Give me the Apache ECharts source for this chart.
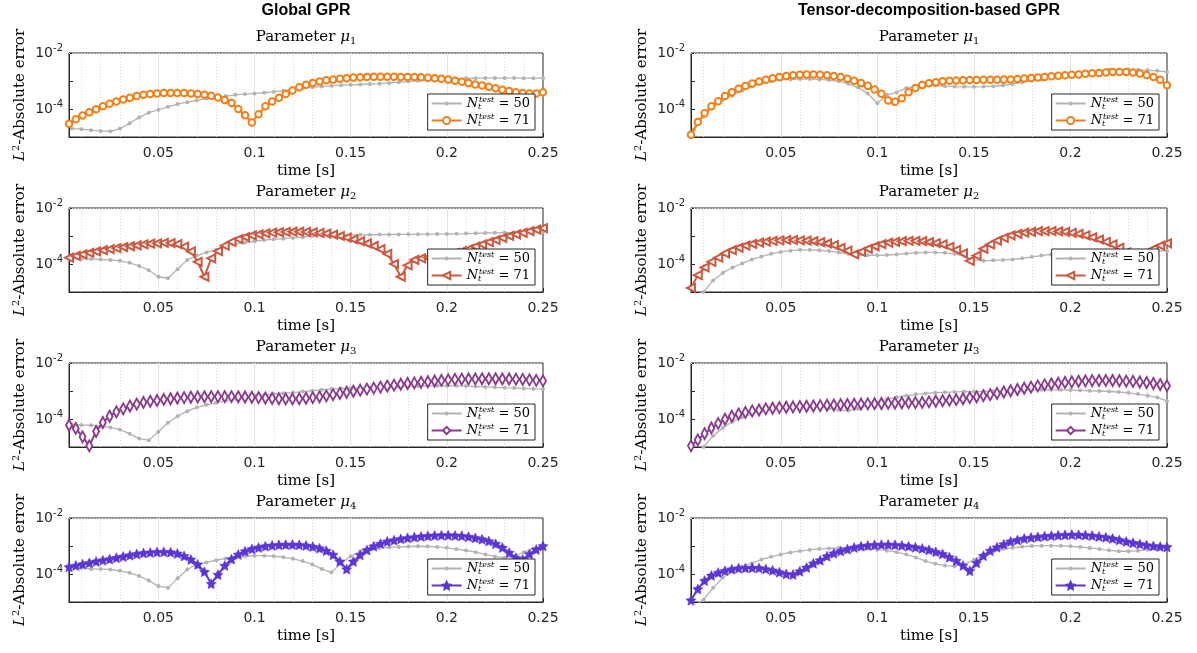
<!DOCTYPE html>
<html>
<head>
<meta charset="utf-8">
<script src="https://cdn.jsdelivr.net/npm/echarts@6.0.0/dist/echarts.min.js"></script>
<style>
  html, body { margin: 0; padding: 0; background: #fff; }
  #chart { width: 1197px; height: 653px; }
</style>
</head>
<body>
<div id="chart"></div>
<script>
// time grids of the two test sets
const dt50 = 0.005;
const dt71 = 0.25 / 71;
const time50 = Array.from({ length: 50 }, (_, i) => dt50 * (i + 1));
const time71 = Array.from({ length: 71 }, (_, i) => dt71 * (i + 1));
const xTicks = [0.05, 0.1, 0.15, 0.2, 0.25];
const yLabelExps = [-2, -4];

// ---- Global GPR ----
const glob_mu1_50 = [2.0e-5,1.9e-5,1.75e-5,1.65e-5,1.6e-5,2.0e-5,3.1e-5,5.0e-5,7.4e-5,9.4e-5,
  1.2e-4,1.5e-4,1.75e-4,2.05e-4,2.35e-4,2.65e-4,2.9e-4,3.2e-4,3.4e-4,3.6e-4,
  3.8e-4,4.1e-4,4.5e-4,5.0e-4,5.5e-4,6.0e-4,6.3e-4,6.7e-4,7.1e-4,7.3e-4,
  7.5e-4,7.8e-4,8.0e-4,8.5e-4,9.0e-4,9.7e-4,1.02e-3,1.08e-3,1.12e-3,1.18e-3,
  1.22e-3,1.25e-3,1.26e-3,1.27e-3,1.27e-3,1.27e-3,1.27e-3,1.26e-3,1.26e-3,1.26e-3];
const glob_mu1_71 = [3.0e-5,4.3e-5,5.9e-5,7.6e-5,9.8e-5,1.25e-4,1.55e-4,1.85e-4,2.2e-4,2.5e-4,
  2.9e-4,3.2e-4,3.4e-4,3.6e-4,3.7e-4,3.75e-4,3.75e-4,3.7e-4,3.6e-4,3.45e-4,
  3.2e-4,2.95e-4,2.6e-4,2.1e-4,1.65e-4,1.0e-4,6.0e-5,3.3e-5,6.5e-5,1.25e-4,
  1.85e-4,2.5e-4,3.4e-4,4.6e-4,6.0e-4,7.3e-4,8.5e-4,9.5e-4,1.06e-3,1.12e-3,
  1.2e-3,1.26e-3,1.32e-3,1.36e-3,1.4e-3,1.42e-3,1.42e-3,1.42e-3,1.42e-3,1.4e-3,
  1.4e-3,1.38e-3,1.35e-3,1.3e-3,1.25e-3,1.2e-3,1.12e-3,1.03e-3,9.4e-4,8.4e-4,
  7.5e-4,6.9e-4,6.2e-4,5.5e-4,4.9e-4,4.4e-4,4.0e-4,3.7e-4,3.6e-4,3.6e-4,4.0e-4];
const glob_mu2_50 = [1.55e-4,1.55e-4,1.5e-4,1.45e-4,1.4e-4,1.3e-4,1.1e-4,8.5e-5,6.0e-5,3.5e-5,
  3.1e-5,6.5e-5,1.4e-4,2.0e-4,2.6e-4,3.2e-4,4.2e-4,5.2e-4,5.8e-4,6.5e-4,
  7.2e-4,7.6e-4,8.0e-4,8.5e-4,9.0e-4,1.0e-3,1.04e-3,1.07e-3,1.09e-3,1.1e-3,
  1.1e-3,1.11e-3,1.12e-3,1.13e-3,1.14e-3,1.15e-3,1.15e-3,1.16e-3,1.17e-3,1.18e-3,
  1.2e-3,1.22e-3,1.25e-3,1.28e-3,1.3e-3,1.33e-3,1.35e-3,1.38e-3,1.4e-3,1.42e-3];
const glob_mu2_71 = [1.7e-4,1.95e-4,2.2e-4,2.5e-4,2.8e-4,3.1e-4,3.4e-4,3.7e-4,4.0e-4,4.3e-4,
  4.6e-4,5.0e-4,5.3e-4,5.5e-4,5.7e-4,5.6e-4,5.1e-4,4.2e-4,2.8e-4,1.2e-4,
  3.5e-5,1.6e-4,2.9e-4,4.5e-4,6.2e-4,7.8e-4,9.2e-4,1.05e-3,1.15e-3,1.25e-3,
  1.32e-3,1.37e-3,1.4e-3,1.42e-3,1.42e-3,1.4e-3,1.36e-3,1.3e-3,1.22e-3,1.12e-3,
  1.0e-3,8.8e-4,7.6e-4,6.5e-4,5.4e-4,4.4e-4,3.4e-4,2.3e-4,1.0e-4,3.5e-5,
  9.0e-5,1.4e-4,1.6e-4,1.7e-4,1.8e-4,2.0e-4,2.2e-4,2.5e-4,2.9e-4,3.4e-4,
  4.2e-4,5.0e-4,6.0e-4,7.2e-4,8.5e-4,1.0e-3,1.15e-3,1.3e-3,1.5e-3,1.7e-3,1.9e-3];
const glob_mu3_50 = [6.3e-5,6.1e-5,6.0e-5,5.6e-5,5.0e-5,4.2e-5,3.0e-5,2.0e-5,1.75e-5,3.5e-5,
  7.3e-5,1.26e-4,1.9e-4,2.6e-4,3.2e-4,3.8e-4,4.5e-4,5.3e-4,6.2e-4,6.8e-4,
  7.3e-4,7.8e-4,8.3e-4,8.8e-4,9.5e-4,1.03e-3,1.1e-3,1.16e-3,1.22e-3,1.26e-3,
  1.3e-3,1.33e-3,1.36e-3,1.4e-3,1.43e-3,1.46e-3,1.5e-3,1.52e-3,1.54e-3,1.55e-3,
  1.53e-3,1.5e-3,1.45e-3,1.4e-3,1.35e-3,1.3e-3,1.27e-3,1.24e-3,1.2e-3,1.17e-3];
const glob_mu3_71 = [6.0e-5,4.6e-5,2.3e-5,1.1e-5,3.6e-5,7.5e-5,1.25e-4,1.8e-4,2.3e-4,2.9e-4,
  3.4e-4,3.9e-4,4.3e-4,4.6e-4,5.0e-4,5.3e-4,5.6e-4,5.8e-4,6.0e-4,6.1e-4,
  6.2e-4,6.3e-4,6.3e-4,6.3e-4,6.3e-4,6.2e-4,6.1e-4,6.0e-4,5.8e-4,5.6e-4,
  5.4e-4,5.3e-4,5.2e-4,5.2e-4,5.3e-4,5.5e-4,5.8e-4,6.2e-4,6.7e-4,7.4e-4,
  8.2e-4,9.0e-4,9.8e-4,1.07e-3,1.17e-3,1.27e-3,1.38e-3,1.5e-3,1.62e-3,1.74e-3,
  1.85e-3,1.95e-3,2.05e-3,2.15e-3,2.28e-3,2.4e-3,2.5e-3,2.6e-3,2.65e-3,2.7e-3,
  2.7e-3,2.72e-3,2.72e-3,2.72e-3,2.7e-3,2.68e-3,2.65e-3,2.6e-3,2.5e-3,2.4e-3,2.3e-3];
const glob_mu4_50 = [1.8e-4,1.65e-4,1.5e-4,1.5e-4,1.45e-4,1.3e-4,1.1e-4,8.5e-5,5.8e-5,3.7e-5,
  3.2e-5,7.0e-5,1.45e-4,2.2e-4,2.6e-4,3.1e-4,3.6e-4,4.0e-4,4.3e-4,4.5e-4,
  4.5e-4,4.3e-4,4.0e-4,3.5e-4,2.9e-4,2.2e-4,1.5e-4,1.15e-4,2.4e-4,4.3e-4,
  6.5e-4,7.9e-4,8.5e-4,9.0e-4,9.3e-4,9.6e-4,9.8e-4,9.6e-4,9.3e-4,8.6e-4,
  7.8e-4,6.9e-4,6.0e-4,5.0e-4,4.2e-4,3.8e-4,4.3e-4,6.0e-4,8.0e-4,1.0e-3];
const glob_mu4_71 = [1.8e-4,2.0e-4,2.25e-4,2.5e-4,2.8e-4,3.1e-4,3.4e-4,3.8e-4,4.2e-4,4.7e-4,
  5.2e-4,5.6e-4,5.9e-4,6.1e-4,6.2e-4,6.0e-4,5.4e-4,4.4e-4,3.3e-4,2.2e-4,
  1.2e-4,4.5e-5,9.5e-5,2.0e-4,3.4e-4,5.0e-4,6.5e-4,7.8e-4,8.8e-4,9.8e-4,
  1.05e-3,1.1e-3,1.12e-3,1.12e-3,1.1e-3,1.04e-3,9.5e-4,8.3e-4,6.8e-4,4.9e-4,
  2.8e-4,1.5e-4,2.8e-4,4.8e-4,7.2e-4,9.8e-4,1.22e-3,1.45e-3,1.62e-3,1.8e-3,
  1.95e-3,2.08e-3,2.2e-3,2.3e-3,2.38e-3,2.42e-3,2.42e-3,2.38e-3,2.3e-3,2.15e-3,
  1.95e-3,1.75e-3,1.5e-3,1.2e-3,8.8e-4,5.8e-4,3.8e-4,3.3e-4,5.2e-4,7.5e-4,1.0e-3];

// ---- Tensor-decomposition-based GPR ----
const tens_mu1_50 = [1.8e-5,5.5e-5,1.17e-4,2.1e-4,3.0e-4,4.5e-4,6.3e-4,8.3e-4,9.8e-4,1.1e-3,
  1.14e-3,1.18e-3,1.18e-3,1.14e-3,1.08e-3,9.8e-4,7.9e-4,5.8e-4,3.6e-4,1.6e-4,
  3.2e-4,3.9e-4,5.6e-4,6.5e-4,6.9e-4,6.9e-4,6.5e-4,6.3e-4,6.2e-4,6.2e-4,
  6.3e-4,6.5e-4,6.9e-4,7.8e-4,9.0e-4,1.04e-3,1.14e-3,1.3e-3,1.48e-3,1.6e-3,
  1.8e-3,2.0e-3,2.3e-3,2.5e-3,2.6e-3,2.6e-3,2.5e-3,2.4e-3,2.3e-3,2.1e-3];
const tens_mu1_71 = [1.2e-5,3.4e-5,7.0e-5,1.25e-4,1.9e-4,2.9e-4,4.0e-4,5.3e-4,6.6e-4,8.1e-4,
  9.6e-4,1.1e-3,1.25e-3,1.4e-3,1.52e-3,1.62e-3,1.68e-3,1.7e-3,1.7e-3,1.68e-3,
  1.62e-3,1.5e-3,1.38e-3,1.2e-3,1.02e-3,8.4e-4,6.7e-4,5.0e-4,3.5e-4,2.0e-4,
  1.8e-4,2.4e-4,4.0e-4,5.6e-4,7.2e-4,8.3e-4,9.0e-4,9.8e-4,1.03e-3,1.05e-3,
  1.07e-3,1.08e-3,1.09e-3,1.1e-3,1.1e-3,1.1e-3,1.12e-3,1.14e-3,1.18e-3,1.22e-3,
  1.27e-3,1.33e-3,1.4e-3,1.47e-3,1.55e-3,1.6e-3,1.66e-3,1.72e-3,1.8e-3,1.88e-3,
  1.95e-3,2.02e-3,2.08e-3,2.1e-3,2.08e-3,2.0e-3,1.85e-3,1.65e-3,1.4e-3,1.1e-3,7.0e-4];
const tens_mu2_50 = [8e-6,1.0e-5,2.6e-5,4.8e-5,7.5e-5,1.05e-4,1.45e-4,1.85e-4,2.3e-4,2.7e-4,
  3.0e-4,3.2e-4,3.2e-4,3.1e-4,2.9e-4,2.6e-4,2.3e-4,2.1e-4,2.05e-4,2.05e-4,
  2.1e-4,2.2e-4,2.35e-4,2.5e-4,2.6e-4,2.6e-4,2.5e-4,2.3e-4,1.9e-4,1.4e-4,
  1.3e-4,1.35e-4,1.4e-4,1.45e-4,1.6e-4,1.8e-4,2.0e-4,2.2e-4,2.4e-4,2.6e-4,
  2.7e-4,2.8e-4,2.9e-4,3.0e-4,3.1e-4,3.1e-4,3.1e-4,3.0e-4,3.0e-4,2.9e-4];
const tens_mu2_71 = [1.4e-5,4.0e-5,7.5e-5,1.2e-4,1.7e-4,2.4e-4,3.1e-4,3.8e-4,4.5e-4,5.2e-4,
  5.8e-4,6.3e-4,6.7e-4,7.0e-4,7.2e-4,7.2e-4,7.0e-4,6.8e-4,6.5e-4,6.0e-4,
  5.4e-4,4.7e-4,3.8e-4,3.0e-4,2.2e-4,2.7e-4,3.5e-4,4.3e-4,5.1e-4,5.8e-4,
  6.2e-4,6.5e-4,6.7e-4,6.7e-4,6.5e-4,6.1e-4,5.6e-4,5.0e-4,4.1e-4,3.2e-4,
  2.4e-4,1.3e-4,2.0e-4,3.5e-4,5.0e-4,6.8e-4,8.5e-4,1.05e-3,1.2e-3,1.32e-3,
  1.4e-3,1.48e-3,1.5e-3,1.5e-3,1.45e-3,1.4e-3,1.3e-3,1.2e-3,1.05e-3,9.0e-4,
  7.5e-4,6.2e-4,5.0e-4,3.8e-4,2.6e-4,1.6e-4,1.3e-4,2.2e-4,3.5e-4,4.5e-4,5.5e-4];
const tens_mu3_50 = [6e-6,1.0e-5,2.5e-5,4.8e-5,8.2e-5,1.15e-4,1.5e-4,1.9e-4,2.25e-4,2.45e-4,
  2.6e-4,2.7e-4,2.8e-4,2.8e-4,2.4e-4,2.1e-4,2.0e-4,2.3e-4,3.0e-4,3.9e-4,
  5.0e-4,6.0e-4,6.8e-4,7.6e-4,8.2e-4,8.7e-4,9.0e-4,9.3e-4,9.5e-4,9.5e-4,
  9.6e-4,9.8e-4,1.0e-3,1.03e-3,1.05e-3,1.08e-3,1.1e-3,1.1e-3,1.1e-3,1.08e-3,
  1.05e-3,1.02e-3,1.0e-3,9.6e-4,9.2e-4,8.6e-4,7.8e-4,6.8e-4,5.8e-4,4.4e-4];
const tens_mu3_71 = [1.1e-5,1.8e-5,3.0e-5,4.8e-5,7.0e-5,9.8e-5,1.25e-4,1.5e-4,1.72e-4,1.95e-4,
  2.1e-4,2.3e-4,2.42e-4,2.55e-4,2.62e-4,2.7e-4,2.78e-4,2.85e-4,2.9e-4,3.0e-4,
  3.1e-4,3.15e-4,3.25e-4,3.3e-4,3.38e-4,3.42e-4,3.47e-4,3.52e-4,3.57e-4,3.62e-4,
  3.7e-4,3.78e-4,3.82e-4,3.85e-4,3.9e-4,4.1e-4,4.3e-4,4.5e-4,4.7e-4,4.9e-4,
  5.3e-4,5.8e-4,6.2e-4,6.8e-4,7.4e-4,8.2e-4,9.2e-4,1.02e-3,1.13e-3,1.25e-3,
  1.38e-3,1.52e-3,1.65e-3,1.78e-3,1.9e-3,2.02e-3,2.12e-3,2.22e-3,2.3e-3,2.35e-3,
  2.38e-3,2.38e-3,2.37e-3,2.33e-3,2.25e-3,2.2e-3,2.1e-3,2.0e-3,1.85e-3,1.7e-3,1.55e-3];
const tens_mu4_50 = [7e-6,1.2e-5,3.2e-5,7.5e-5,1.3e-4,1.85e-4,2.4e-4,3.3e-4,4.1e-4,5.0e-4,
  5.9e-4,6.6e-4,7.3e-4,7.9e-4,8.2e-4,8.5e-4,8.5e-4,8.2e-4,7.9e-4,7.4e-4,
  6.8e-4,6.0e-4,5.0e-4,3.9e-4,2.9e-4,2.3e-4,2.0e-4,1.9e-4,2.2e-4,3.2e-4,
  5.0e-4,6.6e-4,7.8e-4,8.6e-4,9.4e-4,1.0e-3,1.03e-3,1.03e-3,1.02e-3,9.8e-4,
  9.2e-4,8.5e-4,7.8e-4,7.0e-4,6.5e-4,6.5e-4,6.8e-4,7.3e-4,7.9e-4,8.5e-4];
const tens_mu4_71 = [1.15e-5,2.9e-5,5.8e-5,8.8e-5,1.12e-4,1.3e-4,1.48e-4,1.6e-4,1.65e-4,1.67e-4,
  1.63e-4,1.5e-4,1.35e-4,1.15e-4,1.0e-4,9.6e-5,1.25e-4,1.7e-4,2.4e-4,3.1e-4,
  4.3e-4,5.5e-4,6.6e-4,7.7e-4,8.8e-4,9.8e-4,1.05e-3,1.1e-3,1.12e-3,1.12e-3,
  1.1e-3,1.05e-3,9.8e-4,9.0e-4,8.2e-4,7.3e-4,6.2e-4,5.2e-4,4.0e-4,3.0e-4,
  2.0e-4,1.3e-4,2.5e-4,4.5e-4,6.8e-4,9.0e-4,1.15e-3,1.45e-3,1.65e-3,1.85e-3,
  2.0e-3,2.12e-3,2.25e-3,2.35e-3,2.42e-3,2.5e-3,2.55e-3,2.52e-3,2.45e-3,2.35e-3,
  2.2e-3,2.05e-3,1.85e-3,1.65e-3,1.45e-3,1.3e-3,1.18e-3,1.08e-3,1.0e-3,9.6e-4,9.3e-4];

const starPath = 'path://M0,-10L2.9,-4L9.5,-3.1L4.7,1.5L5.9,8.1L0,5L-5.9,8.1L-4.7,1.5L-9.5,-3.1L-2.9,-4Z';

const panels = [
  { col: 0, row: 0, mu: 1, n50: glob_mu1_50, n71: glob_mu1_71, color: '#F57F17', symbol: 'emptyCircle', size: 6.5, rotate: 0 },
  { col: 0, row: 1, mu: 2, n50: glob_mu2_50, n71: glob_mu2_71, color: '#CC5840', symbol: 'emptyTriangle', size: [8, 8], rotate: 90 },
  { col: 0, row: 2, mu: 3, n50: glob_mu3_50, n71: glob_mu3_71, color: '#8A3A8F', symbol: 'emptyDiamond', size: [6, 11], rotate: 0 },
  { col: 0, row: 3, mu: 4, n50: glob_mu4_50, n71: glob_mu4_71, color: '#5B35D5', symbol: starPath, size: 10, rotate: 0 },
  { col: 1, row: 0, mu: 1, n50: tens_mu1_50, n71: tens_mu1_71, color: '#F57F17', symbol: 'emptyCircle', size: 6.5, rotate: 0 },
  { col: 1, row: 1, mu: 2, n50: tens_mu2_50, n71: tens_mu2_71, color: '#CC5840', symbol: 'emptyTriangle', size: [8, 8], rotate: 90 },
  { col: 1, row: 2, mu: 3, n50: tens_mu3_50, n71: tens_mu3_71, color: '#8A3A8F', symbol: 'emptyDiamond', size: [6, 11], rotate: 0 },
  { col: 1, row: 3, mu: 4, n50: tens_mu4_50, n71: tens_mu4_71, color: '#5B35D5', symbol: starPath, size: 10, rotate: 0 }
];

// layout
const W = 1197, H = 653;
const colLeft = [69, 691];
const colWidth = [474, 476];
const rowTop = [53, 208, 363, 518];
const plotH = 84;
const serif = 'DejaVu Serif';
const sans = 'DejaVu Sans';
const ink = '#262626';
const greyLine = '#B3B3B3';

// grid lines (drawn as mark lines so they sit on the real scale)
const yMinor = [];
[-5, -4, -3].forEach(e => { for (let m = 2; m <= 9; m++) yMinor.push(m * Math.pow(10, e)); });
const yMajor = [1e-4, 1e-3];
const xMinor = [];
for (let i = 1; i <= 24; i++) if (i % 5) xMinor.push(i / 100);
const xMajor = [0.05, 0.1, 0.15, 0.2];
const minorStyle = { type: [1, 2], color: '#dcdcdc', width: 1 };
const majorStyle = { type: 'solid', color: '#e3e3e3', width: 1 };
const gridLineData = [].concat(
  xMinor.map(v => ({ xAxis: v, lineStyle: minorStyle })),
  yMinor.map(v => ({ yAxis: v, lineStyle: minorStyle })),
  xMajor.map(v => ({ xAxis: v, lineStyle: majorStyle })),
  yMajor.map(v => ({ yAxis: v, lineStyle: majorStyle }))
);

const legendRich = {
  n: { fontFamily: serif, fontStyle: 'italic', fontSize: 13, color: '#000' },
  sub: { fontFamily: serif, fontStyle: 'italic', fontSize: 8, color: '#000', width: 1, padding: [7, 0, 0, 0] },
  sup: { fontFamily: serif, fontStyle: 'italic', fontSize: 8, color: '#000', padding: [0, 0, 7, 0] },
  eq: { fontFamily: serif, fontSize: 13, color: '#000' }
};
const legendText = name => '{n|N}{sub|t}{sup|test}{eq| = ' + (name.endsWith('_50') ? '50' : '71') + '}';

const grids = [], xAxes = [], yAxes = [], series = [], legends = [];
const headStyle = { fontFamily: 'Liberation Sans', fontWeight: 'bold', fontSize: 16, color: '#000' };
const titles = [
  { text: 'Global GPR', left: colLeft[0] + colWidth[0] / 2, top: 3, textAlign: 'center', padding: 0, textStyle: headStyle },
  { text: 'Tensor-decomposition-based GPR', left: colLeft[1] + colWidth[1] / 2, top: 3, textAlign: 'center', padding: 0, textStyle: headStyle }
];

panels.forEach((p, i) => {
  const left = colLeft[p.col], width = colWidth[p.col], top = rowTop[p.row];
  grids.push({ left: left, top: top, width: width, height: plotH, show: true,
    borderColor: ink, borderWidth: 1, backgroundColor: 'transparent' });

  xAxes.push({
    type: 'value', gridIndex: i, min: time71[0], max: 0.25,
    axisLine: { show: true, lineStyle: { color: ink, width: 1 } },
    axisTick: { show: true, inside: true, length: 4, customValues: xTicks, lineStyle: { color: ink } },
    axisLabel: { customValues: xTicks, margin: 9, fontFamily: sans, fontSize: 14, color: ink,
      formatter: v => String(+v.toFixed(2)) },
    splitLine: { show: false },
    name: 'time [s]', nameLocation: 'middle', nameGap: 27,
    nameTextStyle: { fontFamily: serif, fontSize: 15, color: '#000' }
  });

  yAxes.push({
    type: 'log', logBase: 10, gridIndex: i, min: 1e-5, max: 1e-2,
    axisLine: { show: true, lineStyle: { color: ink, width: 1 } },
    axisTick: { show: true, inside: true, length: 4, lineStyle: { color: ink } },
    axisLabel: {
      margin: 6,
      formatter: v => {
        const e = Math.round(Math.log10(v));
        return yLabelExps.includes(e) ? '{b|10}{e|' + e + '}' : '';
      },
      rich: {
        b: { fontFamily: sans, fontSize: 14, color: ink },
        e: { fontFamily: sans, fontSize: 10, color: ink, padding: [0, 0, 9, 0] }
      }
    },
    splitLine: { show: false },
    name: '{l|L}{s|2}{t|-Absolute error}', nameLocation: 'middle', nameGap: 40, nameRotate: 90,
    nameTextStyle: {
      rich: {
        l: { fontFamily: serif, fontStyle: 'italic', fontSize: 15, color: '#000' },
        s: { fontFamily: serif, fontSize: 10, color: '#000', padding: [0, 0, 8, 0] },
        t: { fontFamily: serif, fontSize: 15, color: '#000' }
      }
    }
  });

  titles.push({
    text: '{a|Parameter }{m|μ}{s|' + p.mu + '}',
    left: left + width / 2, top: top - 24, textAlign: 'center', padding: 0,
    textStyle: {
      fontWeight: 'normal',
      rich: {
        a: { fontFamily: serif, fontWeight: 'normal', fontSize: 15, color: '#000' },
        m: { fontFamily: serif, fontWeight: 'normal', fontStyle: 'italic', fontSize: 15, color: '#000' },
        s: { fontFamily: serif, fontWeight: 'normal', fontSize: 10, color: '#000', padding: [7, 0, 0, 0] }
      }
    }
  });

  const name50 = 'p' + i + '_50';
  const name71 = 'p' + i + '_71';

  // grid lines
  series.push({
    type: 'line', xAxisIndex: i, yAxisIndex: i, data: [], silent: true, z: 1,
    markLine: { silent: true, z: 1, symbol: ['none', 'none'], label: { show: false },
      emphasis: { disabled: true }, animation: false, data: gridLineData }
  });

  series.push({
    type: 'line', name: name50, xAxisIndex: i, yAxisIndex: i, z: 3,
    data: time50.map((t, k) => [t, p.n50[k]]),
    symbol: 'circle', symbolSize: 4, showSymbol: true,
    itemStyle: { color: greyLine },
    lineStyle: { color: greyLine, width: 1.3 },
    emphasis: { disabled: true }
  });

  const starLike = p.symbol.startsWith('path://');
  series.push({
    type: 'line', name: name71, xAxisIndex: i, yAxisIndex: i, z: 4,
    data: time71.map((t, k) => [t, p.n71[k]]),
    symbol: p.symbol, symbolSize: p.size, symbolRotate: p.rotate, showSymbol: true,
    itemStyle: starLike ? { color: p.color, borderColor: p.color, borderWidth: 0.5 }
                        : { color: p.color, borderColor: p.color, borderWidth: 1.4 },
    lineStyle: { color: p.color, width: 2 },
    emphasis: { disabled: true }
  });

  const rightOff = W - (left + width) + 8;
  const bottomOff = H - (top + plotH) + 7;
  legends.push({
    orient: 'vertical', right: rightOff, bottom: bottomOff, z: 10,
    data: [name50], selectedMode: false,
    backgroundColor: '#fff', borderColor: ink, borderWidth: 1,
    padding: [2, 5, 19, 3], itemWidth: 30, itemHeight: 5,
    formatter: legendText, textStyle: { rich: legendRich }
  });
  legends.push({
    orient: 'vertical', right: rightOff, bottom: bottomOff, z: 11,
    data: [name71], selectedMode: false,
    padding: [0, 5, 2, 3], itemWidth: 30, itemHeight: 9,
    formatter: legendText, textStyle: { rich: legendRich }
  });
});

const chart = echarts.init(document.getElementById('chart'), null, { renderer: 'canvas' });
chart.setOption({
  backgroundColor: '#fff',
  animation: false,
  title: titles,
  grid: grids,
  xAxis: xAxes,
  yAxis: yAxes,
  legend: legends,
  series: series
});
</script>
</body>
</html>
